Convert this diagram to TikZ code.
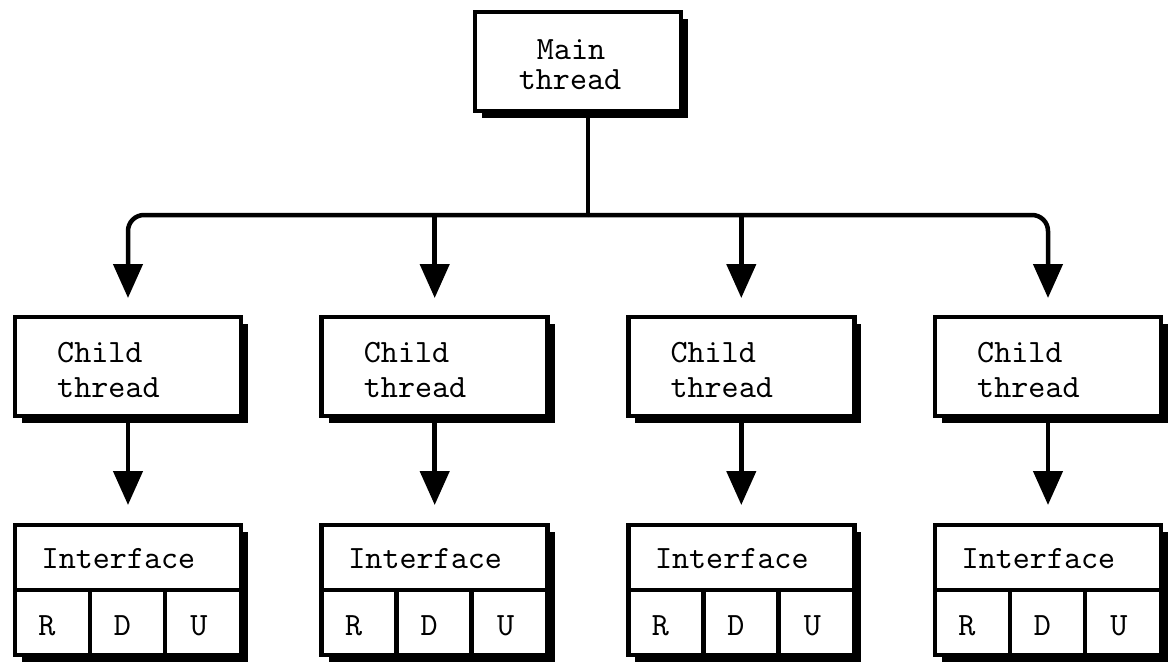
\documentclass[tikz,border=0pt]{standalone}
\usetikzlibrary{arrows.meta,shadows}
\font\bigtt=cmtt10 at 32.5pt
\begin{document}
\begin{tikzpicture}[x=1pt,y=-1pt,
  box/.style={draw, line width=4.5pt, fill=white, inner sep=0pt, outer sep=0pt,
    general shadow={shadow xshift=7pt, shadow yshift=-7pt, fill=black}},
  tx/.style={font=\bigtt, inner sep=0pt},
  conn/.style={line width=4.5pt, -{Triangle[width=29pt,length=34pt]}, rounded corners=16pt},
  plain/.style={line width=4.5pt},
  divline/.style={line width=4.5pt}]
\useasboundingbox (0,0) rectangle (1176,664);
% main box
\node[box, minimum width=206pt, minimum height=99pt] (main) at (578,61.5) {};
\node[tx, anchor=base] (mt1) at (571,59) {Main};
\node[tx, anchor=base] (mt2) at (570,89) {thread};
\coordinate (trunk) at ([xshift=10pt]main.south);
\coordinate (hub) at (588,215);
\foreach \i/\x in {1/128,2/434.7,3/741.3,4/1048}{
  \node[box, minimum width=226pt, minimum height=99pt] (c\i) at (\x,366.5) {};
  \node[tx, anchor=base west] (ct\i a) at (\x-71,362) {Child};
  \node[tx, anchor=base west] (ct\i b) at (\x-71,397) {thread};
  \node[box, minimum width=226pt, minimum height=130pt] (f\i) at (\x,590) {};
  \coordinate (fl\i) at (\x-113,590);
  \coordinate (fr\i) at (\x+113,590);
  \coordinate (va\i) at (\x-38,590);
  \coordinate (vb\i) at (\x+37,590);
  \draw[divline] (fl\i) -- (fr\i);
  \draw[divline] (va\i) -- (va\i |- f\i.south);
  \draw[divline] (vb\i) -- (vb\i |- f\i.south);
  \node[tx, anchor=base] (ft\i) at (\x-9.5,568) {Interface};
  \node[tx, anchor=base] (r\i) at (\x-81,635) {R};
  \node[tx, anchor=base] (d\i) at (\x-5.5,635) {D};
  \node[tx, anchor=base] (u\i) at (\x+71,635) {U};
  \draw[conn, shorten >=20pt] (c\i.south) -- (f\i.north);
}
\draw[plain] (trunk) -- (hub);
\draw[conn, shorten >=19pt] (hub) -| (c1.north);
\draw[conn, shorten >=19pt] (hub) -| (c4.north);
\draw[conn, shorten >=19pt] (c2.north |- hub) -- (c2.north);
\draw[conn, shorten >=19pt] (c3.north |- hub) -- (c3.north);
\end{tikzpicture}
\end{document}
